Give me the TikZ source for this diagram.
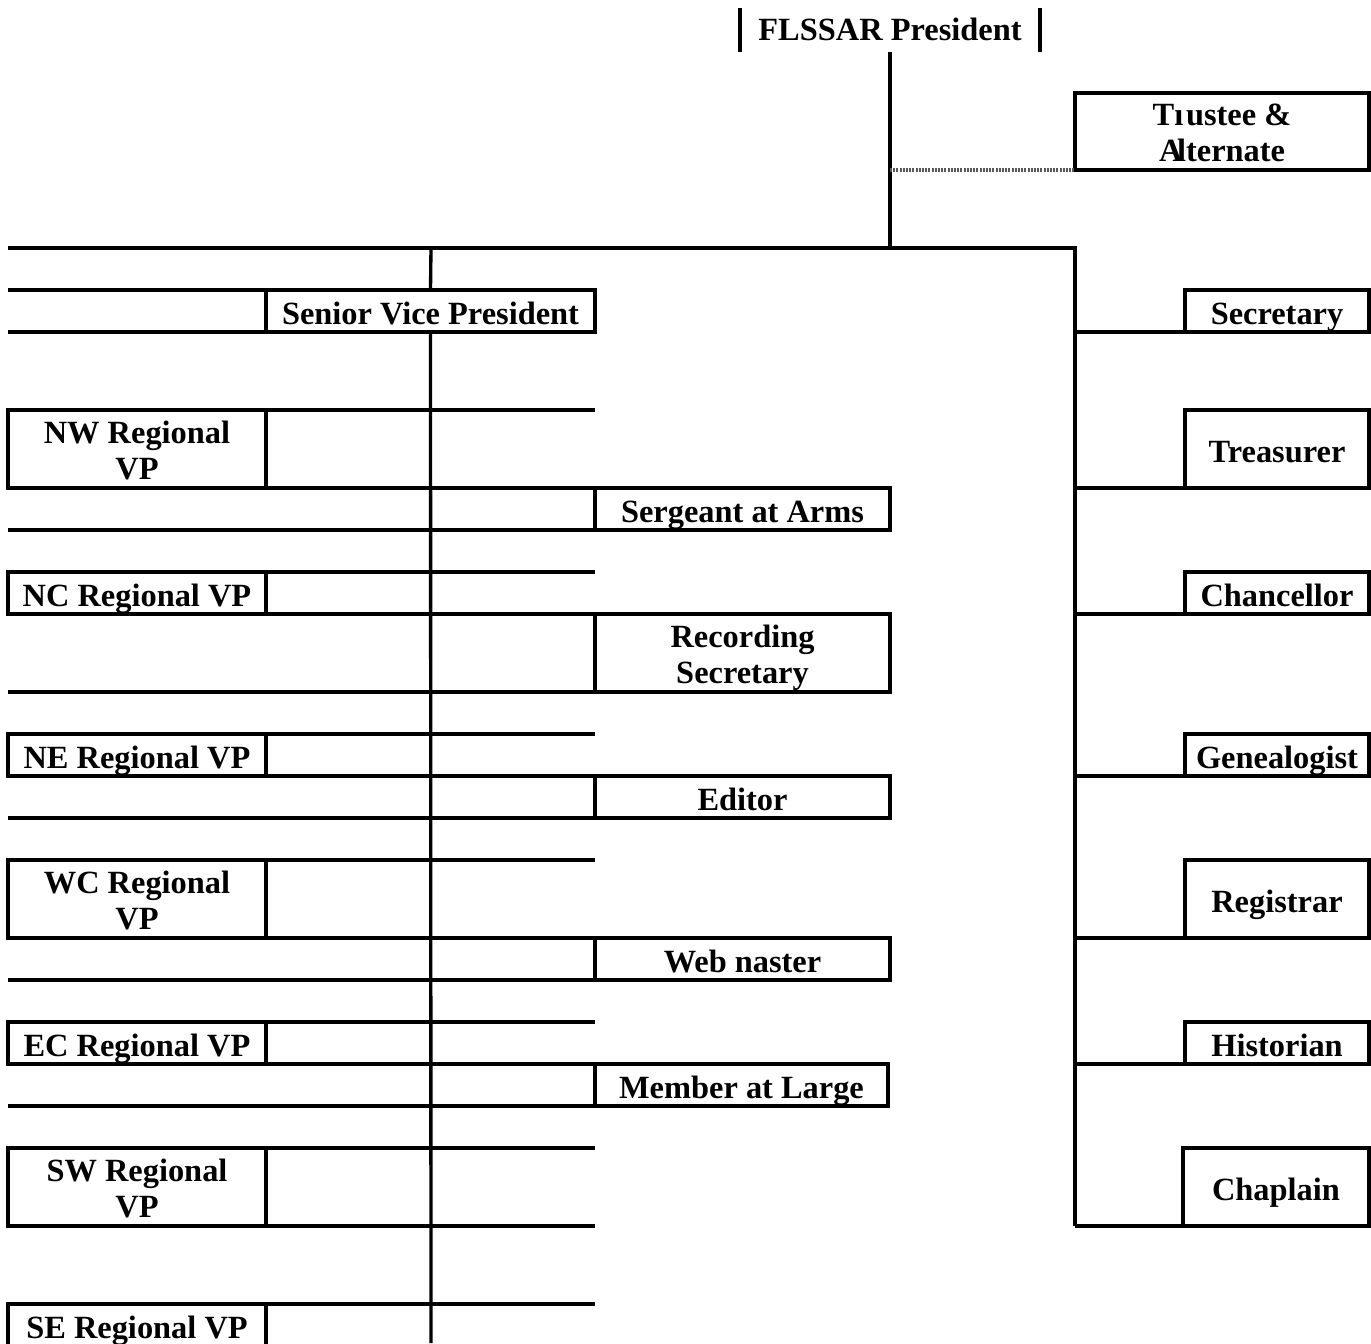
\documentclass[tikz,border=0pt]{standalone}
\usepackage{fontspec}
\setmainfont{Liberation Serif}

\tikzset{
  post/.style={draw, line width=2.5pt, inner sep=0pt, outer sep=0pt, align=center,
    font=\fontsize{24.3}{27}\selectfont\bfseries},
  one/.style={post, text height=20pt, text depth=0pt},
  two/.style={post, text height=45pt, text depth=0pt},
  rule/.style={line width=2.5pt},
  liaison/.style={line width=2.5pt, black!65, dash pattern=on 1.5pt off 0.9pt},
}

\begin{document}
\begin{tikzpicture}[x=0.75pt,y=0.75pt,yscale=-1]
\useasboundingbox (0,0) rectangle (1371,1343);

% column guides
\coordinate (L) at (8,0);
\coordinate (M) at (595,0);
\coordinate (T) at (1075,0);
\coordinate (hub) at (890,248);
\coordinate (svptop) at (431,248);
\coordinate (svpend) at (431,1343);

% Top office
\node [post, text height=16pt, text depth=0pt, draw=none, minimum width=225pt, minimum height=33pt] (pres) at (890,30) {FLSSAR President};
\draw [rule] (pres.north west) -- (pres.south west);
\draw [rule] (pres.north east) -- (pres.south east);

\node [two, minimum width=220.5pt, minimum height=57.75pt] (trust) at (1222,131.5) {Tı\kern2pt ustee \&\\A\kern-4pt lternate};

% Left column
\node [one, minimum width=246.75pt, minimum height=31.5pt] (svp) at (430.5,311) {Senior Vice President};
\node [two, minimum width=193.5pt, minimum height=58.5pt] (nw) at (137,449) {NW Regional\\VP};
\node [one, minimum width=193.5pt, minimum height=31.5pt] (nc) at (137,593) {NC Regional VP};
\node [one, minimum width=193.5pt, minimum height=31.5pt] (ne) at (137,755) {NE Regional VP};
\node [two, minimum width=193.5pt, minimum height=58.5pt] (wc) at (137,899) {WC Regional\\VP};
\node [one, minimum width=193.5pt, minimum height=31.5pt] (ec) at (137,1043) {EC Regional VP};
\node [two, minimum width=193.5pt, minimum height=58.5pt] (sw) at (137,1187) {SW Regional\\VP};
\node [one, minimum width=193.5pt, minimum height=31.5pt] (se) at (137,1325) {SE Regional VP};

% Middle column
\node [one, minimum width=221.25pt, minimum height=31.5pt] (sgt) at (742.5,509) {Sergeant at Arms};
\node [two, minimum width=221.25pt, minimum height=58.5pt] (rec) at (742.5,653) {Recording\\Secretary};
\node [one, minimum width=221.25pt, minimum height=31.5pt] (ed) at (742.5,797) {Editor};
\node [one, minimum width=221.25pt, minimum height=31.5pt] (web) at (742.5,959) {Web naster};
\node [one, minimum width=219.75pt, minimum height=31.5pt] (mal) at (741.5,1085) {Member at Large};

% Right column
\node [one, minimum width=138pt, minimum height=31.5pt] (sec) at (1277,311) {Secretary};
\node [one, minimum width=138pt, minimum height=58.5pt] (tre) at (1277,449) {Treasurer};
\node [one, minimum width=138pt, minimum height=31.5pt] (chan) at (1277,593) {Chancellor};
\node [one, minimum width=138pt, minimum height=31.5pt] (gen) at (1277,755) {Genealogist};
\node [one, minimum width=138pt, minimum height=58.5pt] (reg) at (1277,899) {Registrar};
\node [one, minimum width=138pt, minimum height=31.5pt] (hist) at (1277,1043) {Historian};
\node [one, minimum width=139.5pt, minimum height=58.5pt] (chap) at (1276,1187) {Chaplain};

%Straight Lines
\draw [rule] (pres.south) -- (hub);
\draw [liaison] (pres.south |- trust.south west) -- (trust.south west);
\draw [rule] (L |- hub) -- (T |- hub) -- (T |- chap.south west);
\draw [rule] (svptop) -- (svp.north);
\draw [rule] (svp.south) -- (svpend);

%Straight Lines
\draw [rule] (svp.north west) -- (L |- svp.north west);
\draw [rule] (svp.south west) -- (L |- svp.south west);
\foreach \reg/\mid in {nw/sgt, nc/rec, ne/ed, wc/web, ec/mal}{
  \draw [rule] (\reg.north east) -- (M |- \reg.north east);
  \draw [rule] (\reg.south east) -- (\mid.north west);
  \draw [rule] (\mid.south west) -- (L |- \mid.south west);
}
\draw [rule] (sw.north east) -- (M |- sw.north east);
\draw [rule] (sw.south east) -- (M |- sw.south east);
\draw [rule] (se.north east) -- (M |- se.north east);

%Straight Lines
\foreach \off in {sec, tre, chan, gen, reg, hist, chap}{
  \draw [rule] (\off.south west) -- (T |- \off.south west);
}

\end{tikzpicture}
\end{document}
